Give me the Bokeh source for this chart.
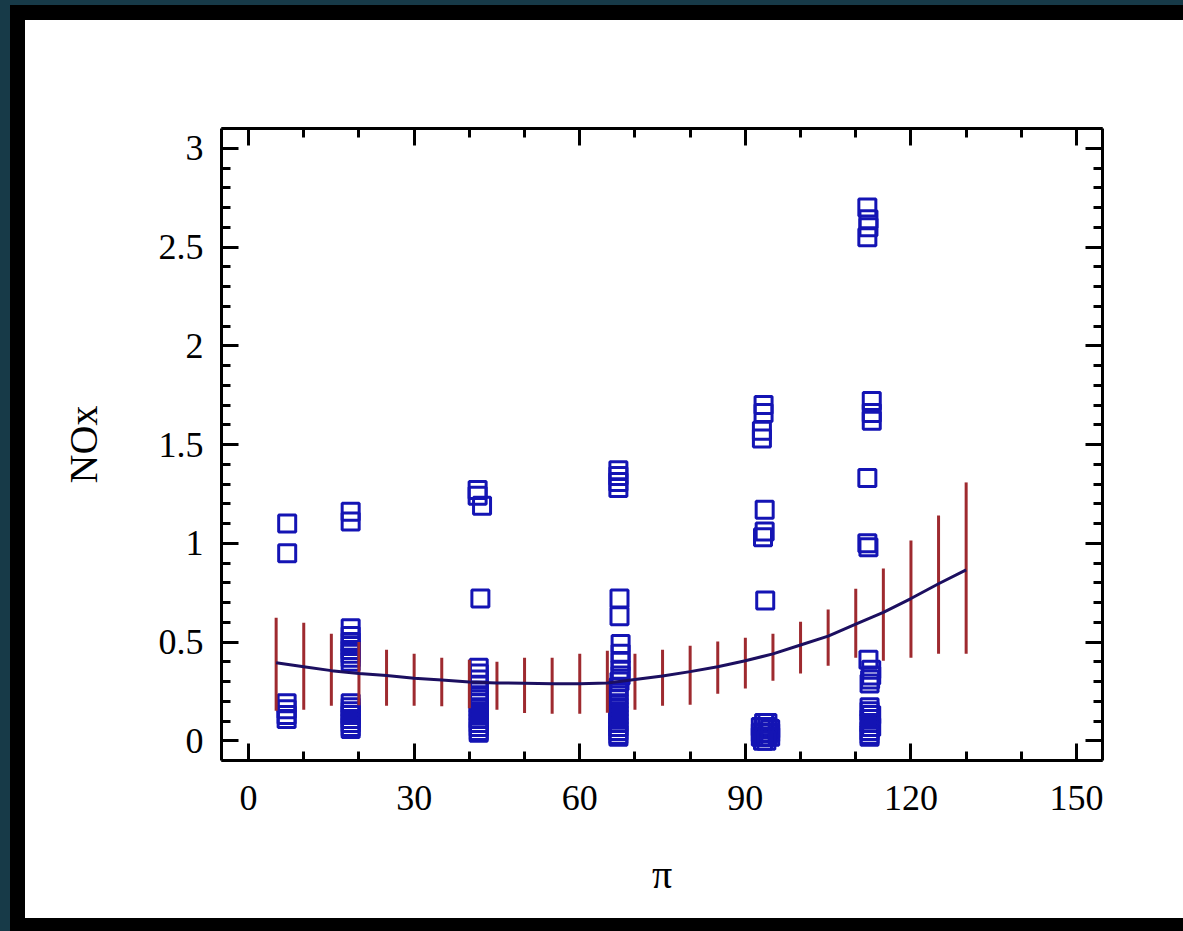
from bokeh.plotting import figure
from bokeh.models import FixedTicker, LinearAxis, Range1d
from bokeh.embed import file_html
from bokeh.resources import INLINE

# ---------------- data ----------------
x_ticks = [0, 30, 60, 90, 120, 150]
x_tick_labels = ["0", "30", "60", "90", "120", "150"]
x_minor_ticks = [0, 10, 20, 30, 40, 50, 60, 70, 80, 90, 100, 110, 120, 130, 140, 150]
y_ticks = [0, 0.5, 1, 1.5, 2, 2.5, 3]
y_tick_labels = ["0", "0.5", "1", "1.5", "2", "2.5", "3"]
y_minor_ticks = [-0.1, 0.0, 0.1, 0.2, 0.3, 0.4, 0.5, 0.6, 0.7, 0.8, 0.9, 1.0, 1.1, 1.2,
                 1.3, 1.4, 1.5, 1.6, 1.7, 1.8, 1.9, 2.0, 2.1, 2.2, 2.3, 2.4, 2.5, 2.6,
                 2.7, 2.8, 2.9, 3.0, 3.1]

# observations (open squares), grouped by x
g1_x = [7.0, 7.0, 6.9, 6.9, 6.9, 6.9]
g1_y = [1.10, 0.95, 0.19, 0.16, 0.13, 0.11]

g2_x = [18.5, 18.5,
        18.5, 18.5, 18.5, 18.5, 18.5, 18.5, 18.5, 18.5,
        18.5, 18.5, 18.5, 18.5, 18.5, 18.5, 18.5, 18.5]
g2_y = [1.16, 1.11,
        0.57, 0.53, 0.50, 0.48, 0.46, 0.44, 0.42, 0.40,
        0.19, 0.17, 0.15, 0.13, 0.11, 0.09, 0.07, 0.06]

g3_x = [41.5, 41.5, 42.3,
        42.0,
        41.7, 41.7, 41.7, 41.7, 41.7, 41.7, 41.7, 41.7,
        41.7, 41.7, 41.7, 41.7, 41.7, 41.7, 41.7, 41.7]
g3_y = [1.27, 1.24, 1.19,
        0.72,
        0.37, 0.34, 0.31, 0.28, 0.25, 0.23, 0.21, 0.19,
        0.17, 0.15, 0.13, 0.11, 0.09, 0.07, 0.05, 0.04]

g4_x = [67.0, 67.0, 67.0, 67.0,
        67.2, 67.2,
        67.4, 67.4, 67.4, 67.4, 67.4, 67.2, 67.0, 67.0, 67.0, 67.0,
        67.0, 67.0, 67.0, 67.0, 67.0, 67.0, 67.0, 67.0, 67.0, 67.0]
g4_y = [1.37, 1.34, 1.31, 1.28,
        0.72, 0.63,
        0.49, 0.44, 0.40, 0.36, 0.33, 0.30, 0.27, 0.25, 0.23, 0.21,
        0.19, 0.17, 0.15, 0.13, 0.11, 0.09, 0.07, 0.05, 0.03, 0.02]

g5_x = [93.3, 93.3, 93.0, 93.0,
        93.5, 93.5, 93.2,
        93.6,
        93.4, 94.0, 92.8, 93.4, 94.0, 94.5, 92.8, 93.4, 94.0, 94.5,
        92.8, 93.4, 94.0, 94.5, 93.2, 93.8]
g5_y = [1.70, 1.66, 1.57, 1.53,
        1.17, 1.06, 1.03,
        0.71,
        0.09, 0.09, 0.07, 0.07, 0.07, 0.06, 0.04, 0.04, 0.04, 0.04,
        0.02, 0.02, 0.02, 0.02, 0.00, 0.00]

g6_x = [112.1, 112.3, 112.3, 112.1,
        112.9, 112.9, 112.9,
        112.1,
        112.1, 112.3,
        112.3, 112.8, 112.8, 112.6, 112.5,
        112.5, 112.5, 112.8, 112.5, 112.5, 112.8, 112.5, 112.5, 112.5]
g6_y = [2.70, 2.64, 2.60, 2.55,
        1.72, 1.66, 1.62,
        1.33,
        1.00, 0.98,
        0.41, 0.36, 0.33, 0.31, 0.29,
        0.17, 0.15, 0.13, 0.11, 0.09, 0.07, 0.05, 0.03, 0.02]

# fitted mean curve and its interval bars
fit_x = [5, 10, 15, 20, 25, 30, 35, 40, 45, 50, 55, 60, 65,
         70, 75, 80, 85, 90, 95, 100, 105, 110, 115, 120, 125, 130]
fit_y = [0.395, 0.375, 0.355, 0.340, 0.330, 0.316, 0.308, 0.298, 0.293, 0.291, 0.289, 0.289, 0.292,
         0.310, 0.328, 0.350, 0.375, 0.405, 0.440, 0.485, 0.530, 0.590, 0.650, 0.720, 0.795, 0.865]
fit_lo = [0.152, 0.157, 0.177, 0.180, 0.177, 0.177, 0.175, 0.165, 0.157, 0.140, 0.137, 0.137, 0.142,
          0.157, 0.177, 0.182, 0.238, 0.264, 0.304, 0.340, 0.380, 0.420, 0.405, 0.420, 0.440, 0.440]
fit_hi = [0.623, 0.598, 0.542, 0.500, 0.461, 0.441, 0.420, 0.410, 0.400, 0.420, 0.420, 0.441, 0.456,
          0.441, 0.461, 0.481, 0.502, 0.522, 0.542, 0.603, 0.664, 0.770, 0.872, 1.014, 1.140, 1.308]

obs_x = g1_x + g2_x + g3_x + g4_x + g5_x + g6_x
obs_y = g1_y + g2_y + g3_y + g4_y + g5_y + g6_y

# ---------------- figure ----------------
SERIF = "Liberation Serif"

p = figure(
    width=1183, height=931,
    x_range=Range1d(-4.9, 154.7), y_range=Range1d(-0.1, 3.1),
    output_backend="svg", toolbar_location=None,
    min_border_left=221, min_border_right=81, min_border_top=128, min_border_bottom=171,
    background_fill_color="white", border_fill_color=None,
    outline_line_color=None,
    x_axis_label="π", y_axis_label="NOx",
    styles={
        "background-color": "white",
        "box-shadow": "inset 10px 5px 0 0 #173a48, inset 25px 20px 0 0 #000000, "
                      "inset 0 -13px 0 0 #000000",
    },
)
p.grid.visible = False

p.add_layout(LinearAxis(), "above")
p.add_layout(LinearAxis(), "right")

xt = FixedTicker(ticks=x_ticks, minor_ticks=x_minor_ticks)
yt = FixedTicker(ticks=y_ticks, minor_ticks=y_minor_ticks)

bottom_ax = p.below[0]
left_ax = p.left[0]
top_ax = p.above[0]
right_ax = p.right[0]

for ax in (bottom_ax, top_ax):
    ax.ticker = xt
for ax in (left_ax, right_ax):
    ax.ticker = yt

for ax in (bottom_ax, left_ax, top_ax, right_ax):
    ax.axis_line_color = "black"
    ax.axis_line_width = 3
    ax.major_tick_line_color = "black"
    ax.major_tick_line_width = 3
    ax.minor_tick_line_color = "black"
    ax.minor_tick_line_width = 3
    ax.major_tick_in = 17
    ax.major_tick_out = 0
    ax.minor_tick_in = 9
    ax.minor_tick_out = 0
    ax.major_label_text_font = SERIF
    ax.major_label_text_font_size = "36px"
    ax.major_label_text_color = "black"
    ax.axis_label_text_font = SERIF
    ax.axis_label_text_font_size = "40px"
    ax.axis_label_text_font_style = "normal"
    ax.axis_label_text_color = "black"

bottom_ax.major_label_overrides = {t: s for t, s in zip(x_ticks, x_tick_labels)}
left_ax.major_label_overrides = {t: s for t, s in zip(y_ticks, y_tick_labels)}
bottom_ax.major_label_standoff = 25
left_ax.major_label_standoff = 18
bottom_ax.axis_label_standoff = 39
left_ax.axis_label_standoff = 50

# mirrored axes: ticks only, empty labels
top_ax.major_label_overrides = {t: "" for t in x_ticks}
right_ax.major_label_overrides = {t: "" for t in y_ticks}
top_ax.major_label_standoff = 0
right_ax.major_label_standoff = 0

# observations
p.scatter(obs_x, obs_y, marker="square", size=17, line_width=3,
          line_color="#1414b4", fill_color=None)

# interval bars and fitted curve
p.segment(x0=fit_x, y0=fit_lo, x1=fit_x, y1=fit_hi,
          line_color="#9e2a2f", line_width=3)
p.line(fit_x, fit_y, line_color="#1c0f60", line_width=3)

open("out.html", "w").write(file_html(p, INLINE))
